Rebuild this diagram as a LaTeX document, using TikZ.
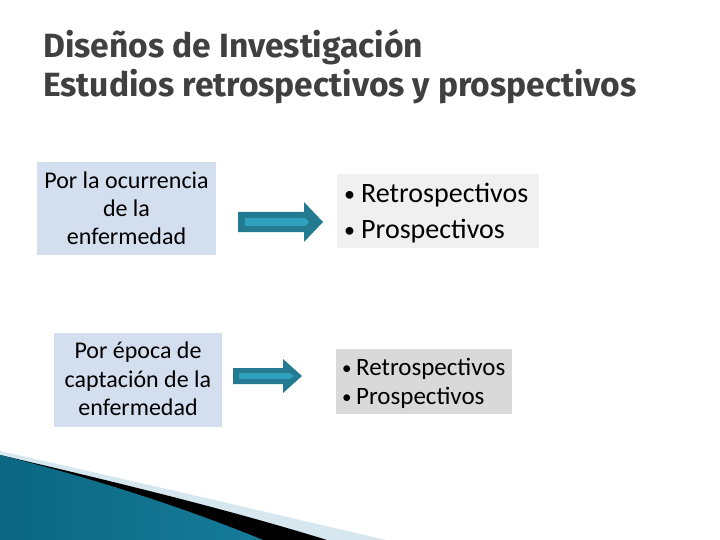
\documentclass[tikz,border=0pt]{standalone}
\usepackage{fontspec}
\setmainfont{Carlito}
\newfontfamily\boxfont{Carlito}
\newfontfamily\titlefont{Fira Sans}
\definecolor{tgray}{HTML}{404040}
\definecolor{boxblue}{HTML}{D3DEEF}
\definecolor{boxlgray}{HTML}{F0F0F0}
\definecolor{boxgray}{HTML}{D9D9D9}
\definecolor{arrowout}{HTML}{237A91}
\definecolor{arrowin}{HTML}{30A0BF}
\definecolor{lightband}{HTML}{D6E7EF}
\definecolor{tealdark}{HTML}{0B6782}
\definecolor{tealmid}{HTML}{44ACCF}
\definecolor{tealend}{HTML}{167C99}
\tikzset{
  titletext/.style={anchor=base west, inner sep=0pt, text=tgray, font=\titlefont\bfseries\fontsize{33.6}{40}\selectfont},
  panel/.style={inner sep=0pt, draw=none},
  linetext/.style={inner sep=0pt, text=black, anchor=base},
  bullettext/.style={inner sep=0pt, text=black, anchor=base west},
}
\begin{document}
\begin{tikzpicture}[x=1pt,y=-1pt]
\useasboundingbox (0,0) rectangle (720,540);
\fill[white] (0,0) rectangle (720,540);
% bottom decoration
\fill[lightband] (0,451) -- (180,492) -- (386,540) -- (0,540) -- cycle;
\fill[black] (0,455) .. controls (120,483) and (230,510) .. (327,540) -- (0,540) -- cycle;
\shade[left color=tealdark, middle color=tealmid, right color=tealend]
  (0,455) .. controls (100,480) and (190,510) .. (263,540) -- (0,540) -- cycle;
% title
\node[titletext] (t1) at (43,58) {Diseños de Investigación};
\node[titletext] (t2) at (43,97) {Estudios retrospectivos y prospectivos};
% left boxes
\node[panel, fill=boxblue, minimum width=179pt, minimum height=93pt] (b1) at (126.5,208.5) {};
\begin{scope}[every node/.style={linetext, font=\boxfont\fontsize{24}{24}\selectfont}]
\node (b1l1) at (126.5,189) {Por la ocurrencia};
\node (b1l2) at (126.5,216.5) {de la};
\node (b1l3) at (126.5,244) {enfermedad};
\end{scope}
\node[panel, fill=boxblue, minimum width=168pt, minimum height=94pt] (b3) at (138,380) {};
\begin{scope}[every node/.style={linetext, font=\boxfont\fontsize{24}{24}\selectfont}]
\node (b3l1) at (138,358) {Por época de};
\node (b3l2) at (138,387) {captación de la};
\node (b3l3) at (138,415.5) {enfermedad};
\end{scope}
% right boxes
\node[panel, fill=boxlgray, minimum width=202pt, minimum height=74pt] (b2) at (438,211) {};
\begin{scope}[every node/.style={bullettext, font=\boxfont\fontsize{28}{28}\selectfont}]
\node[font=\boxfont\fontsize{22}{22}\selectfont] (b2d1) at (344,202) {•};
\node (b2l1) at (361,203) {Retrospectivos};
\node[font=\boxfont\fontsize{22}{22}\selectfont] (b2d2) at (344,237) {•};
\node (b2l2) at (361,238) {Prospectivos};
\end{scope}
\node[panel, fill=boxgray, minimum width=176pt, minimum height=65pt] (b4) at (424,381.5) {};
\begin{scope}[every node/.style={bullettext, font=\boxfont\fontsize{25}{25}\selectfont}]
\node[font=\boxfont\fontsize{19}{19}\selectfont] (b4d1) at (342,374) {•};
\node (b4l1) at (356,375) {Retrospectivos};
\node[font=\boxfont\fontsize{19}{19}\selectfont] (b4d2) at (342,403) {•};
\node (b4l2) at (356,404) {Prospectivos};
\end{scope}
% arrows
\fill[arrowout] (238,212) -- (304,212) -- (304,202) -- (323,222) -- (304,242) -- (304,232) -- (238,232) -- cycle;
\fill[arrowin] (245,218) -- (305,218) -- (309,222) -- (305,226) -- (245,226) -- cycle;
\fill[arrowout] (233,368) -- (283,368) -- (283,359) -- (302,376) -- (283,393) -- (283,384) -- (233,384) -- cycle;
\fill[arrowin] (239,373) -- (290,373) -- (294,376) -- (290,379) -- (239,379) -- cycle;
\end{tikzpicture}
\end{document}
